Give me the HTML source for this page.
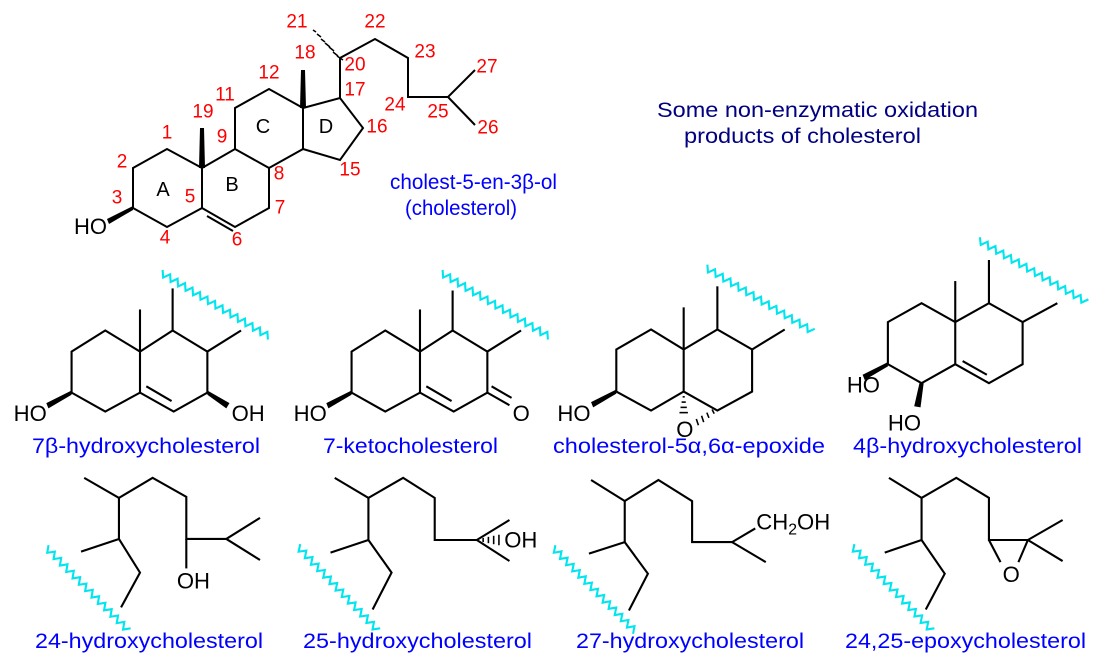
<!DOCTYPE html>
<html><head><meta charset="utf-8"><style>
body{margin:0;background:#fff}
svg{display:block}
text{font-family:"Liberation Sans",Arial,sans-serif}
.b{stroke:#000;stroke-width:2;fill:none;stroke-linejoin:miter}
.r{fill:#f00;font-size:19px}
.k{fill:#000;font-size:21px}
.bl{fill:#00f;font-size:21px}
.w{stroke:#00e5ee;stroke-width:2;fill:none}
</style></head><body>
<svg id="s" width="1102" height="662" viewBox="0 0 1102 662">
<!-- cholesterol -->
<polyline class="b" points="133,208 133,168 167,149 202,168 202,208 167,227 133,208"/>
<polyline class="b" points="202,208 235,227 269,208 269,168 235,149 202,168"/>
<line class="b" x1="207" y1="216" x2="233" y2="231"/>
<polyline class="b" points="235,149 235,108 269,89 303,108 303,149 269,168"/>
<polyline class="b" points="303,108 340,98 363,128 340,160 303,149"/>
<polyline class="b" points="340,98 340,58 375,39 408,58 408,97 448,97 475,70"/>
<line class="b" x1="448" y1="97" x2="475" y2="125"/>
<polygon points="199,168 205,168 204,128 200,128" fill="#000"/>
<polygon points="300,108 306,108 305,70 301,70" fill="#000"/>
<polygon points="133,206 133,210 109,224 107,219" fill="#000"/>
<g stroke="#000" stroke-width="1.5">
<line x1="337" y1="56" x2="343" y2="60"/><line x1="333" y1="52" x2="338" y2="56"/><line x1="329" y1="47" x2="334" y2="51"/><line x1="325" y1="43" x2="330" y2="47"/><line x1="321" y1="39" x2="325" y2="42"/><line x1="317" y1="34" x2="321" y2="37"/><line x1="313" y1="30" x2="316" y2="32"/>
</g>
<text class="k" x="74" y="234" style="font-size:22px">HO</text>
<g class="r" text-anchor="middle" dominant-baseline="central">
<text x="167" y="133">1</text><text x="122" y="162">2</text><text x="117" y="198">3</text><text x="165" y="238">4</text><text x="190" y="197">5</text><text x="237" y="240">6</text><text x="280" y="208">7</text><text x="279" y="174">8</text><text x="222" y="137">9</text><text x="225" y="95">11</text><text x="269" y="73">12</text><text x="305" y="53">18</text><text x="203" y="112">19</text><text x="297" y="22">21</text><text x="375" y="22">22</text><text x="425" y="52">23</text><text x="355" y="65">20</text><text x="355" y="90">17</text><text x="377" y="127">16</text><text x="350" y="170">15</text><text x="395" y="105">24</text><text x="438" y="112">25</text><text x="487" y="67">27</text><text x="488" y="128">26</text>
</g>
<g class="k" text-anchor="middle" dominant-baseline="central" style="font-size:20px">
<text x="163" y="190">A</text><text x="232" y="185">B</text><text x="263" y="127">C</text><text x="326" y="127">D</text>
</g>
<text class="bl" x="390" y="189" textLength="167" lengthAdjust="spacingAndGlyphs">cholest-5-en-3β-ol</text>
<text class="bl" x="405" y="215" textLength="112" lengthAdjust="spacingAndGlyphs">(cholesterol)</text>
<text x="657" y="117" fill="#000080" style="font-size:21px" textLength="321" lengthAdjust="spacingAndGlyphs">Some non-enzymatic oxidation</text>
<text x="684" y="143" fill="#000080" style="font-size:21px" textLength="237" lengthAdjust="spacingAndGlyphs">products of cholesterol</text>

<g id="g0" transform="translate(0,260) scale(1.0526) translate(0,-260)">
<polyline class="b" points="68,386 68,347 100,327 133,347 133,386 100,404 68,386"/>
<polyline class="b" points="133,347 164,327 197,347 197,386 165,404 133,386"/>
<line class="b" x1="133" y1="347" x2="133" y2="307"/>
<line class="b" x1="164" y1="327" x2="164" y2="287"/>
<line class="b" x1="197" y1="347" x2="229" y2="327"/>
<line class="b" x1="139" y1="380" x2="163" y2="394"/>
<polygon points="68,384 68,388 46,401 44,396" fill="#000"/>
<polygon points="197,384 197,388 215,401 218,396" fill="#000"/>
<text class="k" x="13" y="413">HO</text>
<text class="k" x="220" y="413">OH</text>
<g transform="translate(266,0)">
<polyline class="b" points="68,386 68,347 100,327 133,347 133,386 100,404 68,386"/>
<polyline class="b" points="133,347 164,327 197,347 197,386 165,404 133,386"/>
<line class="b" x1="133" y1="347" x2="133" y2="307"/>
<line class="b" x1="164" y1="327" x2="164" y2="289"/>
<line class="b" x1="197" y1="347" x2="229" y2="327"/>
<line class="b" x1="139" y1="380" x2="163" y2="394"/>
<polygon points="68,384 68,388 46,401 44,396" fill="#000"/>
<line class="b" x1="197" y1="386" x2="218" y2="398"/>
<line class="b" x1="201" y1="380" x2="220" y2="391"/>
<text class="k" x="13" y="413">HO</text>
<text class="k" x="221" y="413">O</text>
</g>
</g>

<g id="g1" transform="translate(550,260) scale(1.0526) translate(-550,-260)">
<polyline class="b" points="613,385 613,345 646,326 677,345 677,385 646,403 613,385"/>
<polyline class="b" points="677,345 709,326 742,345 742,385 709,403 677,385"/>
<line class="b" x1="677" y1="345" x2="677" y2="305"/>
<line class="b" x1="709" y1="326" x2="709" y2="285"/>
<line class="b" x1="742" y1="345" x2="773" y2="326"/>
<g stroke="#000" stroke-width="1.5">
<line x1="676" y1="390" x2="678" y2="390"/><line x1="675" y1="395" x2="679" y2="395"/><line x1="674" y1="400" x2="680" y2="400"/><line x1="673" y1="405" x2="681" y2="405"/>
<line x1="704" y1="402" x2="706" y2="406"/><line x1="699" y1="405" x2="701" y2="410"/><line x1="694" y1="408" x2="696" y2="414"/><line x1="689" y1="411" x2="691" y2="417"/>
</g>
<polygon points="613,383 613,387 591,400 589,395" fill="#000"/>
<text class="k" x="557" y="413">HO</text>
<text class="k" x="670" y="428">O</text>
<polyline class="b" points="871,359 871,319 903,301 935,319 935,359 903,377 871,359"/>
<polyline class="b" points="935,319 967,301 999,319 999,359 967,377 935,359"/>
<line class="b" x1="935" y1="319" x2="935" y2="280"/>
<line class="b" x1="967" y1="301" x2="967" y2="260"/>
<line class="b" x1="999" y1="319" x2="1032" y2="301"/>
<line class="b" x1="942" y1="356" x2="965" y2="369"/>
<polygon points="871,357 871,361 849,374 847,369" fill="#000"/>
<polygon points="901,377 905,377 902,400 896,399" fill="#000"/>
<text class="k" x="832" y="386">HO</text>
<text class="k" x="871" y="422">HO</text>
</g>

<g id="g2" transform="translate(0,460) scale(1.0526) translate(0,-460)">
<polyline class="b" points="80,477 113,496 145,477 177,495 177,535 215,535 247,515"/>
<line class="b" x1="215" y1="535" x2="247" y2="555"/>
<line class="b" x1="177" y1="535" x2="177" y2="563"/>
<polyline class="b" points="113,496 113,535 77,547"/>
<polyline class="b" points="113,535 133,567 115,600"/>
<text class="k" x="168" y="582">OH</text>
<polyline class="b" points="318,477 350,496 383,477 413,496 413,536 453,536 484,517"/>
<line class="b" x1="453" y1="536" x2="484" y2="556"/>
<polyline class="b" points="350,496 350,536 314,548"/>
<polyline class="b" points="350,536 372,567 354,602"/>
<g stroke="#000" stroke-width="1.5">
<line x1="459" y1="534" x2="459" y2="538"/><line x1="464" y1="533" x2="464" y2="539"/><line x1="469" y1="532" x2="469" y2="540"/><line x1="474" y1="531" x2="474" y2="541"/>
</g>
<text class="k" x="479" y="543">OH</text>
</g>

<g id="g3" transform="translate(550,460) scale(1.0526) translate(-550,-460)">
<polyline class="b" points="589,479 621,499 653,479 685,499 685,538 723,538 745,525"/>
<line class="b" x1="723" y1="538" x2="755" y2="557"/>
<polyline class="b" points="621,499 621,538 587,549"/>
<polyline class="b" points="621,538 643,568 625,603"/>
<text class="k" x="746" y="526">CH<tspan dy="5" style="font-size:15px">2</tspan><tspan dy="-5">OH</tspan></text>
<polyline class="b" points="872,477 903,496 936,477 967,496 967,536 1004,536 1037,517"/>
<line class="b" x1="1004" y1="536" x2="1037" y2="556"/>
<line class="b" x1="967" y1="536" x2="978" y2="557"/>
<line class="b" x1="1004" y1="536" x2="995" y2="557"/>
<polyline class="b" points="903,496 903,536 868,548"/>
<polyline class="b" points="903,536 925,568 907,602"/>
<text class="k" x="980" y="576">O</text>
</g>

<text class="bl" x="32" y="453" textLength="228" lengthAdjust="spacingAndGlyphs">7β-hydroxycholesterol</text>
<text class="bl" x="323" y="453" textLength="175" lengthAdjust="spacingAndGlyphs">7-ketocholesterol</text>
<text class="bl" x="553" y="453" textLength="272" lengthAdjust="spacingAndGlyphs">cholesterol-5α,6α-epoxide</text>
<text class="bl" x="853" y="453" textLength="229" lengthAdjust="spacingAndGlyphs">4β-hydroxycholesterol</text>
<text class="bl" x="35" y="648" textLength="228" lengthAdjust="spacingAndGlyphs">24-hydroxycholesterol</text>
<text class="bl" x="303" y="648" textLength="229" lengthAdjust="spacingAndGlyphs">25-hydroxycholesterol</text>
<text class="bl" x="576" y="648" textLength="228" lengthAdjust="spacingAndGlyphs">27-hydroxycholesterol</text>
<text class="bl" x="845" y="648" textLength="241" lengthAdjust="spacingAndGlyphs">24,25-epoxycholesterol</text>
</svg>
<script>
var W=[[0,153,272,256,333],[0,419,272,522,333],[1,698,267,800,328],[1,957,241,1060,300],[2,44,543,122,622],[2,283,542,359,622],[3,553,543,631,623],[3,837,542,913,622]];
var ns='http://www.w3.org/2000/svg';
W.forEach(function(q){var g=document.getElementById('g'+q[0]);var w=q.slice(1);var dx=w[2]-w[0],dy=w[3]-w[1],L=Math.hypot(dx,dy),ux=dx/L,uy=dy/L,nx=-uy,ny=ux,n=Math.round(L/4.2),p=[];
for(var i=0;i<=n;i++){var t=i*L/n,a=(i%2?3:-3);p.push((w[0]+ux*t+nx*a).toFixed(1)+','+(w[1]+uy*t+ny*a).toFixed(1));}
var pl=document.createElementNS(ns,'polyline');pl.setAttribute('points',p.join(' '));pl.setAttribute('class','w');g.appendChild(pl);});
</script>
</body></html>
